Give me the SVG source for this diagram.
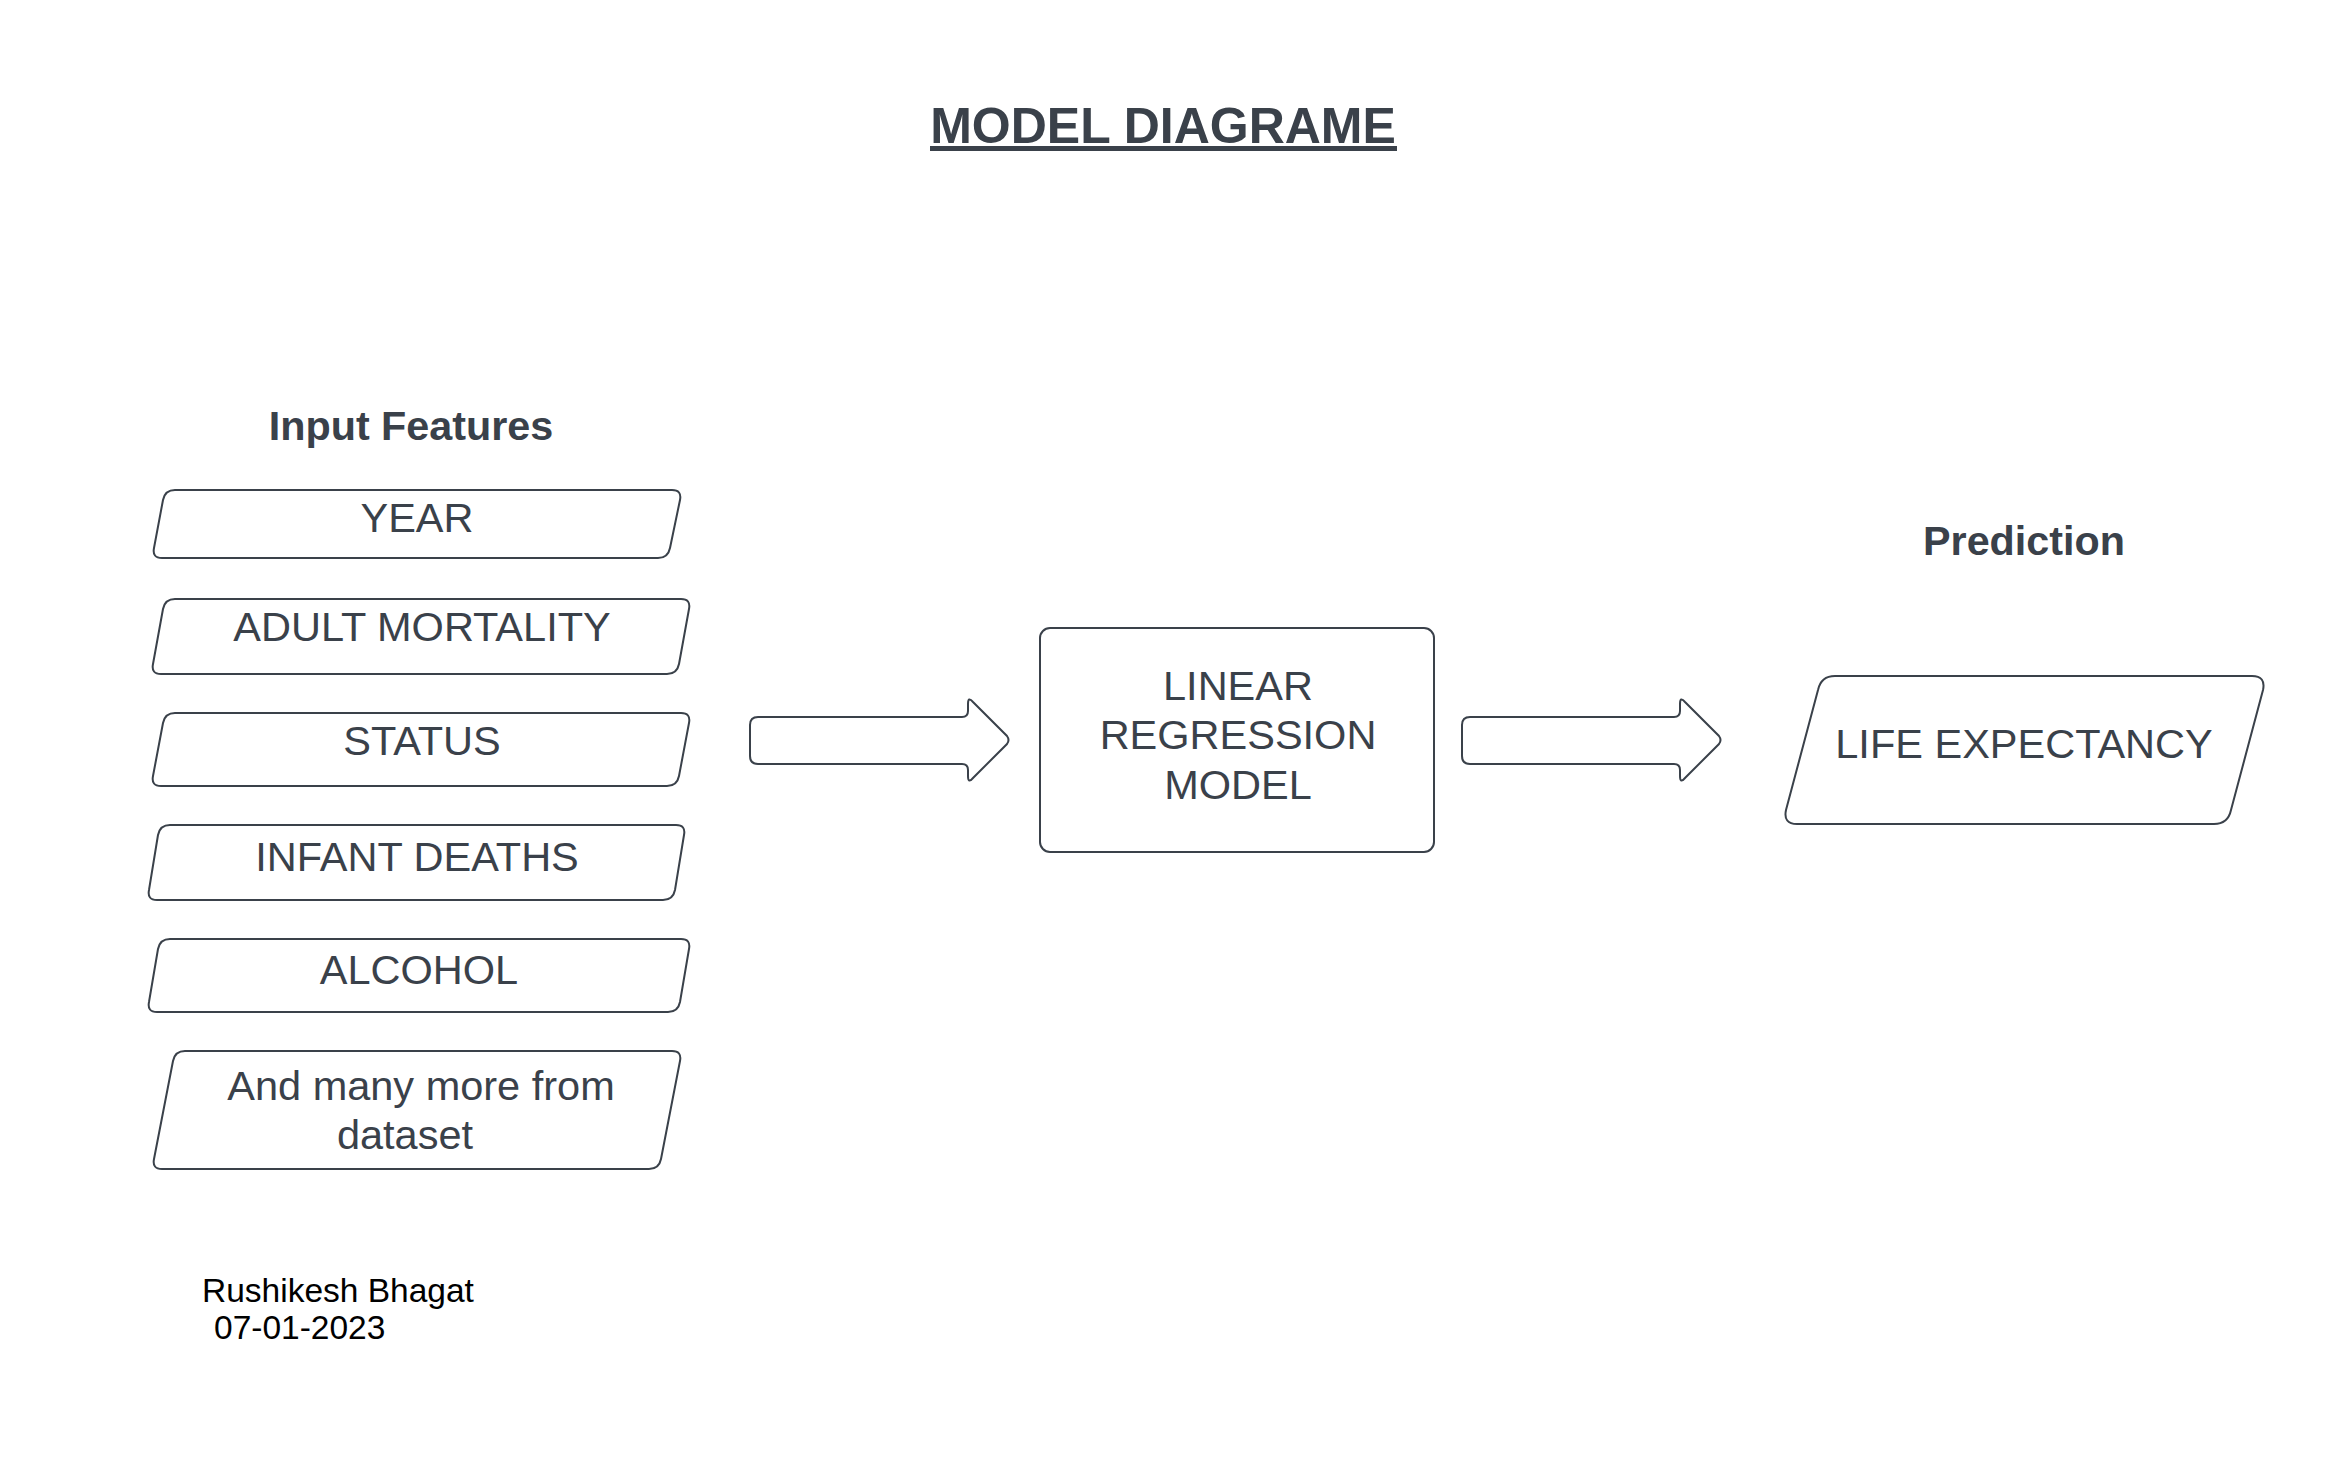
<svg xmlns="http://www.w3.org/2000/svg" width="2344" height="1463" viewBox="0 0 2344 1463">
<style>
.shape{fill:#ffffff;stroke:#3a414a;stroke-width:2}
.t{font-family:"Liberation Sans",Arial,sans-serif;font-size:41.5px;fill:#3a414a;text-anchor:middle}
.h{font-family:"Liberation Sans",Arial,sans-serif;font-size:41.3px;font-weight:bold;fill:#3a414a;text-anchor:middle}
.a{font-family:"Liberation Sans",Arial,sans-serif;font-size:33.5px;fill:#000000}
</style>
<rect width="2344" height="1463" fill="#ffffff"/>
<g id="title">
<text x="1163" y="143" font-family="Liberation Sans, Arial, sans-serif" font-size="50" font-weight="bold" fill="#3a414a" text-anchor="middle">MODEL DIAGRAME</text>
<rect x="930" y="146" width="467" height="5" fill="#3a414a"/>
</g>
<g id="label-input"><text class="h" x="411" y="440">Input Features</text></g>
<g id="label-prediction"><text class="h" x="2024" y="555">Prediction</text></g>
<g id="node-year">
<path class="shape" d="M175,490 H672 Q682,490 680,500 L670,548 Q668,558 658,558 H162 Q152,558 154,548 L163,500 Q165,490 175,490 Z"/>
<text class="t" x="417" y="532">YEAR</text>
</g>
<g id="node-adult">
<path class="shape" d="M175,599 H681 Q691,599 689,609 L679,664 Q677,674 667,674 H161 Q151,674 153,664 L163,609 Q165,599 175,599 Z"/>
<text class="t" x="422" y="641">ADULT MORTALITY</text>
</g>
<g id="node-status">
<path class="shape" d="M175,713 H681 Q691,713 689,723 L679,776 Q677,786 667,786 H161 Q151,786 153,776 L163,723 Q165,713 175,713 Z"/>
<text class="t" x="422" y="755">STATUS</text>
</g>
<g id="node-infant">
<path class="shape" d="M170,825 H676 Q686,825 684,835 L675,890 Q673,900 663,900 H157 Q147,900 149,890 L158,835 Q160,825 170,825 Z"/>
<text class="t" x="417" y="871">INFANT DEATHS</text>
</g>
<g id="node-alcohol">
<path class="shape" d="M170,939 H681 Q691,939 689,949 L680,1002 Q678,1012 668,1012 H157 Q147,1012 149,1002 L158,949 Q160,939 170,939 Z"/>
<text class="t" x="419" y="984">ALCOHOL</text>
</g>
<g id="node-more">
<path class="shape" d="M185,1051 H672 Q682,1051 680,1061 L661,1159 Q659,1169 649,1169 H162 Q152,1169 154,1159 L173,1061 Q175,1051 185,1051 Z"/>
<text class="t" x="421" y="1100">And many more from</text>
<text class="t" x="405" y="1149">dataset</text>
</g>
<g id="node-model">
<rect class="shape" x="1040" y="628" width="394" height="224" rx="10"/>
<text class="t" x="1238" y="700">LINEAR</text>
<text class="t" x="1238" y="749">REGRESSION</text>
<text class="t" x="1238" y="799">MODEL</text>
</g>
<g id="node-life">
<path class="shape" d="M1835,676 H2252 Q2266,676 2263,690 L2231,810 Q2228,824 2214,824 H1797 Q1783,824 1786,810 L1818,690 Q1821,676 1835,676 Z"/>
<text class="t" x="2024" y="758">LIFE EXPECTANCY</text>
</g>
<g id="connectors">
<path class="shape" d="M758,717 H962 Q968,717 968,711 V704 Q968,696 973,702 L1007,736 Q1010,740 1007,744 L973,778 Q968,784 968,776 V770 Q968,764 962,764 H758 Q750,764 750,756 V725 Q750,717 758,717 Z"/>
<path class="shape" d="M1470,717 H1674 Q1680,717 1680,711 V704 Q1680,696 1685,702 L1719,736 Q1722,740 1719,744 L1685,778 Q1680,784 1680,776 V770 Q1680,764 1674,764 H1470 Q1462,764 1462,756 V725 Q1462,717 1470,717 Z"/>
</g>
<g id="author">
<text class="a" x="202" y="1302">Rushikesh Bhagat</text>
<text class="a" x="214" y="1339">07-01-2023</text>
</g>
</svg>
